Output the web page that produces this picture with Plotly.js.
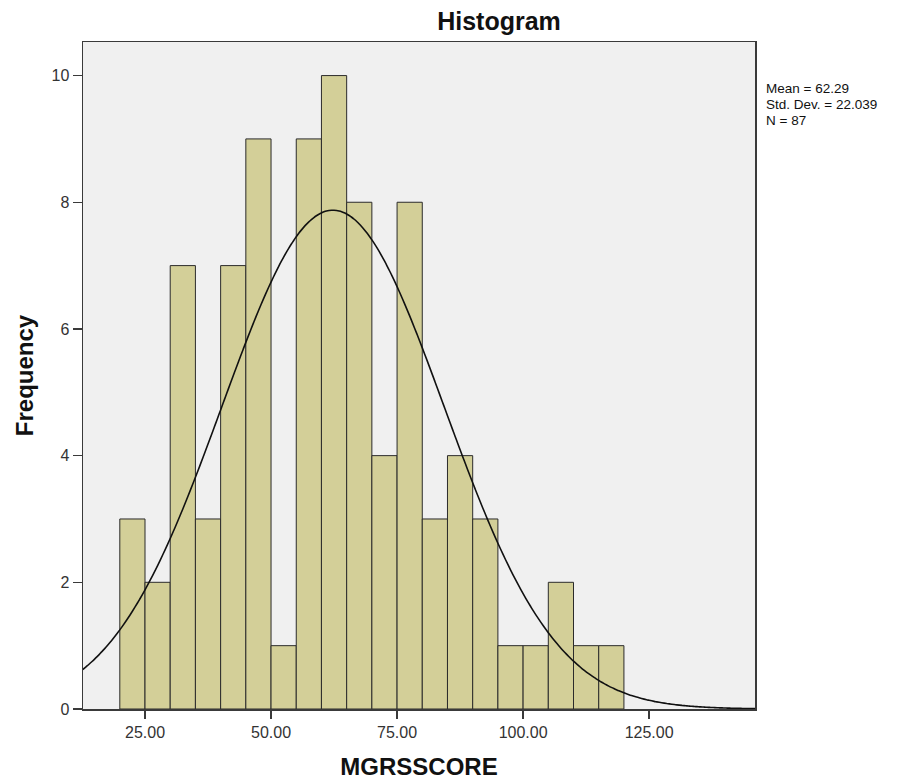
<!DOCTYPE html>
<html>
<head>
<meta charset="utf-8">
<script src="https://cdn.plot.ly/plotly-3.0.1.min.js"></script>
<style>html,body{margin:0;padding:0;background:#fff;}#chart{width:914px;height:780px;}</style>
</head>
<body>
<div id="chart"></div>
<script>
// Bin lower edges (width 5) and frequencies
const binStarts = [20,25,30,35,40,45,50,55,60,65,70,75,80,85,90,95,100,105,110,115];
const frequencies = [3,2,7,3,7,9,1,9,10,8,4,8,3,4,3,1,1,2,1,1];
const binWidth = 5;
// Summary statistics shown on the chart
const meanValue = 62.29;
const stdDev = 22.039;
const nCount = 87;
const statLines = ['Mean = 62.29', 'Std. Dev. = 22.039', 'N = 87'];
const xTickVals = [25,50,75,100,125];
const xTickText = ["25.00","50.00","75.00","100.00","125.00"];
const yTickVals = [0,2,4,6,8,10];

const centers = binStarts.map(s => s + binWidth/2);

// Fitted normal curve (from the stated mean, std. dev. and N)
const curveX = [], curveY = [];
for (let x = 12; x <= 147; x += 0.5) {
  curveX.push(x);
  const z = (x - meanValue) / stdDev;
  curveY.push(nCount * binWidth / (stdDev * Math.sqrt(2*Math.PI)) * Math.exp(-0.5*z*z));
}

const traces = [
  {
    type: 'bar', x: centers, y: frequencies, width: binWidth,
    marker: {color: '#D3CF98', line: {color: '#2b2b2b', width: 1}},
    hoverinfo: 'x+y', showlegend: false
  },
  {
    type: 'scatter', mode: 'lines', x: curveX, y: curveY,
    line: {color: '#111111', width: 1.6, shape: 'spline'},
    hoverinfo: 'skip', showlegend: false
  }
];

const FONT = 'Arial, Liberation Sans, sans-serif';
const annY = [88, 104, 120];
const layout = {
  width: 914, height: 780,
  margin: {l: 83, r: 159, t: 42, b: 71},
  paper_bgcolor: '#ffffff',
  plot_bgcolor: '#F0F0F0',
  font: {family: FONT, color: '#222', size: 16},
  title: {text: '<b>Histogram</b>', x: 499/914, xanchor: 'center', xref: 'container',
          y: 1 - 21/780, yanchor: 'middle', yref: 'container',
          font: {family: FONT, size: 25, color: '#111'}},
  bargap: 0,
  xaxis: {
    range: [12.7, 146], tickvals: xTickVals, ticktext: xTickText,
    showgrid: false, zeroline: false,
    showline: true, mirror: true, linecolor: '#3a3a3a', linewidth: 1.5,
    ticks: 'outside', ticklen: 8, tickcolor: '#3a3a3a', tickwidth: 1.5,
    tickfont: {size: 16, color: '#333'},
    title: {text: '<b>MGRSSCORE</b>', standoff: 21, font: {size: 24, color: '#111'}}
  },
  yaxis: {
    range: [0, 10.53], tickvals: yTickVals,
    showgrid: false, zeroline: false,
    showline: true, mirror: true, linecolor: '#3a3a3a', linewidth: 1.5,
    ticks: 'outside', ticklen: 9, tickcolor: '#3a3a3a', tickwidth: 1.5,
    tickfont: {size: 16, color: '#333'},
    title: {text: '<b>Frequency</b>', standoff: 11, font: {size: 24, color: '#111'}}
  },
  annotations: statLines.map((t, i) => ({
    xref: 'paper', yref: 'paper', x: 1.0, y: 1 - (annY[i] - 42)/667,
    xshift: 9, xanchor: 'left', yanchor: 'middle', align: 'left', showarrow: false,
    text: t, font: {size: 13.5, color: '#111', family: FONT}
  }))
};

Plotly.newPlot('chart', traces, layout, {displayModeBar: false, staticPlot: true});
</script>
</body>
</html>
